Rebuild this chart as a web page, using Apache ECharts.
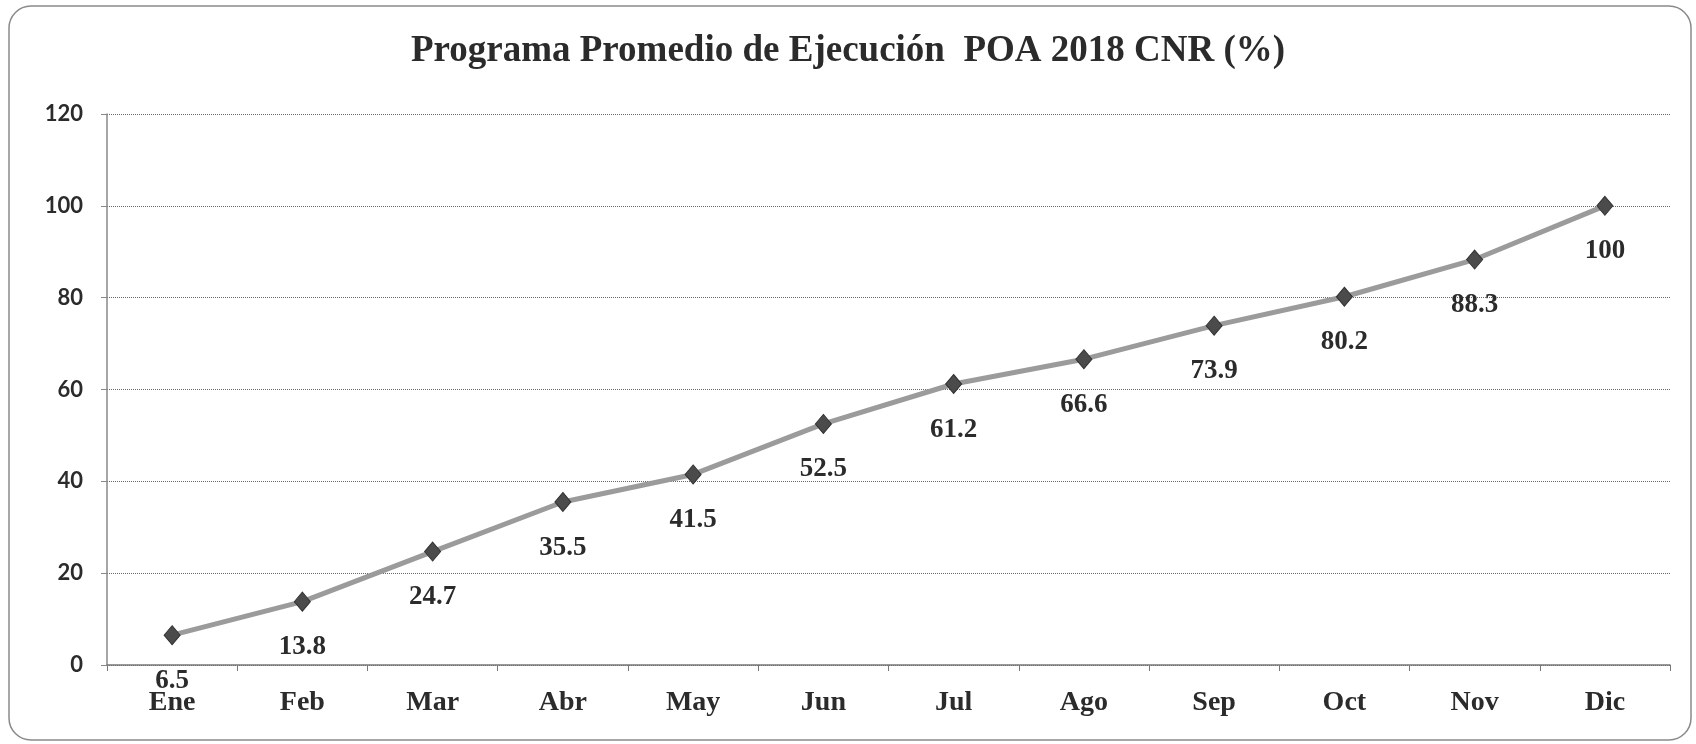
<!DOCTYPE html>
<html>
<head>
<meta charset="utf-8">
<script src="https://cdn.jsdelivr.net/npm/echarts@6/dist/echarts.min.js"></script>
<style>
  html, body { margin: 0; padding: 0; background: #fff; }
  #chart { width: 1696px; height: 744px; }
</style>
</head>
<body>
<div id="chart"></div>
<script>
// datos del grafico
const titulo = 'Programa Promedio de Ejecución  POA 2018 CNR (%)'
const meses = ['Ene', 'Feb', 'Mar', 'Abr', 'May', 'Jun', 'Jul', 'Ago', 'Sep', 'Oct', 'Nov', 'Dic']
const ejecucion = [6.5, 13.8, 24.7, 35.5, 41.5, 52.5, 61.2, 66.6, 73.9, 80.2, 88.3, 100]

const serif = '"Liberation Serif", "DejaVu Serif", serif'

let chart = echarts.init(document.getElementById('chart'))
chart.setOption({
  animation: false,
  backgroundColor: '#fff',
  title: {
    text: titulo,
    left: 'center',
    top: 28,
    textStyle: { fontFamily: serif, fontWeight: 'bold', fontSize: 37, color: '#2b2b2b' }
  },
  // marco redondeado
  graphic: [{
    type: 'rect',
    shape: { x: 9, y: 6, width: 1682, height: 734, r: 22 },
    style: { fill: 'none', stroke: '#8a8a8a', lineWidth: 1.5 },
    silent: true
  }],
  grid: { left: 107, right: 26, top: 114, bottom: 79 },
  xAxis: {
    type: 'category',
    data: meses,
    boundaryGap: true,
    axisLine: { lineStyle: { color: '#777', width: 1.5 } },
    axisTick: { show: true, length: 6, alignWithLabel: false, lineStyle: { color: '#777' } },
    axisLabel: { margin: 24, fontFamily: serif, fontWeight: 'bold', fontSize: 28, color: '#2b2b2b' }
  },
  yAxis: {
    type: 'value',
    min: 0,
    max: 120,
    interval: 20,
    axisLine: { show: true, lineStyle: { color: '#888', width: 1.5 } },
    axisTick: { show: true, length: 6, lineStyle: { color: '#888' } },
    axisLabel: { margin: 24, fontFamily: 'Lato, "Open Sans", sans-serif', fontWeight: 'bold', fontSize: 22, color: '#2b2b2b' },
    splitLine: { lineStyle: { color: '#666', type: [1, 1], width: 1 } }
  },
  series: [{
    type: 'line',
    data: ejecucion,
    symbol: 'diamond',
    symbolSize: [16, 19],
    lineStyle: { color: '#9b9b9b', width: 5 },
    itemStyle: { color: '#4b4b4b', borderColor: '#333', borderWidth: 1 },
    label: {
      show: true,
      position: 'bottom',
      distance: 22,
      fontFamily: serif,
      fontWeight: 'bold',
      fontSize: 27,
      color: '#2b2b2b'
    },
    z: 3
  }]
})
</script>
</body>
</html>
